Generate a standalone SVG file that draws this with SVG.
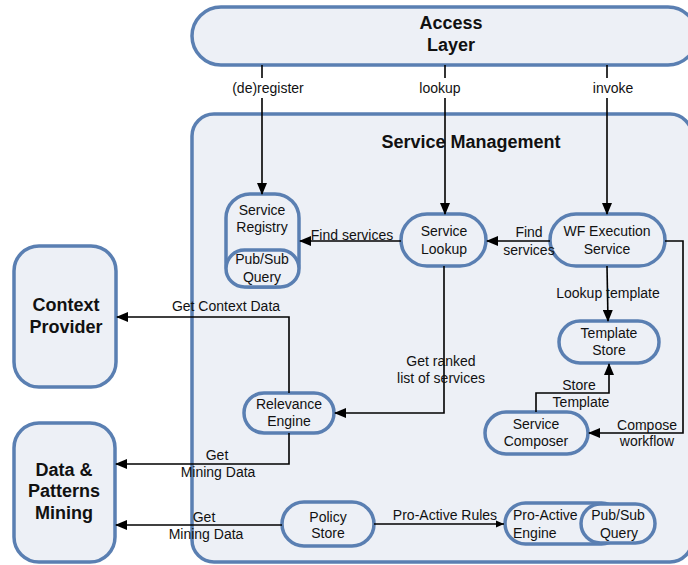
<svg xmlns="http://www.w3.org/2000/svg" width="688" height="565" viewBox="0 0 688 565">
<style>
.box{fill:#edf0f6;stroke:#5a7fb2;stroke-width:3.5}
.t{font-family:"Liberation Sans",Arial,sans-serif;font-size:14px;fill:#111;text-anchor:middle}
.b{font-family:"Liberation Sans",Arial,sans-serif;font-size:18px;font-weight:bold;fill:#111;text-anchor:middle}
.c{fill:none;stroke:#000;stroke-width:1.6}
</style>
<defs>
<marker id="ah" markerWidth="12" markerHeight="10" refX="11" refY="5" orient="auto" markerUnits="userSpaceOnUse">
<path d="M0,0 L12,5 L0,10 z" fill="#000"/>
</marker>
<marker id="ahs" markerWidth="8" markerHeight="8" refX="8" refY="4" orient="auto" markerUnits="userSpaceOnUse">
<path d="M0,0.5 L8,4 L0,7.5 z" fill="#000"/>
</marker>
</defs>
<rect width="688" height="565" fill="#fff"/>

<g id="service-management">
<rect class="box" x="192" y="114" width="500" height="448" rx="22"/>
<text class="b" x="471" y="148">Service Management</text>
</g>
<g id="access-layer">
<rect class="box" x="192" y="7" width="505" height="58" rx="29"/>
<text class="b" x="451" y="29">Access</text>
<text class="b" x="451" y="51">Layer</text>
</g>
<g id="context-provider">
<rect class="box" x="14" y="246" width="102" height="141" rx="25"/>
<text class="b" x="66" y="311">Context</text>
<text class="b" x="66" y="333">Provider</text>
</g>
<g id="data-patterns-mining">
<rect class="box" x="14" y="423" width="101" height="139" rx="25"/>
<text class="b" x="64" y="476">Data &amp;</text>
<text class="b" x="64" y="497">Patterns</text>
<text class="b" x="64" y="519">Mining</text>
</g>
<g id="service-registry">
<rect class="box" x="226" y="194" width="73" height="93" rx="24"/>
<rect class="box" x="226" y="250" width="73" height="37" rx="18.5"/>
<text class="t" x="262" y="215">Service</text>
<text class="t" x="262" y="232">Registry</text>
<text class="t" x="262" y="264">Pub/Sub</text>
<text class="t" x="262" y="282">Query</text>
</g>
<g id="service-lookup">
<rect class="box" x="401" y="214" width="85" height="52" rx="26"/>
<text class="t" x="444" y="236">Service</text>
<text class="t" x="444" y="254">Lookup</text>
</g>
<g id="wf-execution-service">
<rect class="box" x="550" y="214" width="115" height="52" rx="26"/>
<text class="t" x="607" y="236">WF Execution</text>
<text class="t" x="607" y="254">Service</text>
</g>
<g id="template-store">
<rect class="box" x="559" y="321" width="100" height="42" rx="21"/>
<text class="t" x="609" y="338">Template</text>
<text class="t" x="609" y="355">Store</text>
</g>
<g id="service-composer">
<rect class="box" x="485" y="412" width="103" height="42" rx="21"/>
<text class="t" x="536" y="429">Service</text>
<text class="t" x="536" y="446">Composer</text>
</g>
<g id="relevance-engine">
<rect class="box" x="244" y="393" width="90" height="40" rx="20"/>
<text class="t" x="289" y="409">Relevance</text>
<text class="t" x="289" y="426">Engine</text>
</g>
<g id="policy-store">
<rect class="box" x="282" y="502" width="92" height="44" rx="22"/>
<text class="t" x="328" y="522">Policy</text>
<text class="t" x="328" y="538">Store</text>
</g>
<g id="pro-active-engine">
<rect class="box" x="505" y="503" width="117" height="41" rx="20.5"/>
<rect class="box" x="581" y="504" width="74" height="39" rx="19.5"/>
<text class="t" x="513" y="520" style="text-anchor:start">Pro-Active</text>
<text class="t" x="513" y="538" style="text-anchor:start">Engine</text>
<text class="t" x="618" y="520">Pub/Sub</text>
<text class="t" x="619" y="538">Query</text>
</g>

<g id="connectors">
<path class="c" d="M262,65 V78"/>
<path class="c" d="M262,98 V194" marker-end="url(#ah)"/>
<path class="c" d="M445,65 V78"/>
<path class="c" d="M445,98 V214" marker-end="url(#ah)"/>
<path class="c" d="M607,65 V78"/>
<path class="c" d="M607,98 V214" marker-end="url(#ah)"/>
<path class="c" d="M401,241 H300" marker-end="url(#ah)"/>
<path class="c" d="M550,241 H487" marker-end="url(#ah)"/>
<path class="c" d="M665,241 H683 V433 H589" marker-end="url(#ah)"/>
<path class="c" d="M607,266 L608,321" marker-end="url(#ah)"/>
<path class="c" d="M536,412 V393 H609 V364" marker-end="url(#ah)"/>
<path class="c" d="M444,266 V413 H335" marker-end="url(#ah)"/>
<path class="c" d="M289,393 V317 H117" marker-end="url(#ah)"/>
<path class="c" d="M289,433 V464 H116" marker-end="url(#ah)"/>
<path class="c" d="M282,525 H116" marker-end="url(#ah)"/>
<path class="c" d="M374,524 H504" marker-end="url(#ahs)"/>
</g>

<g id="labels">
<text class="t" x="268" y="93">(de)register</text>
<text class="t" x="440" y="93">lookup</text>
<text class="t" x="613" y="93">invoke</text>
<text class="t" x="352" y="240">Find services</text>
<text class="t" x="529" y="237">Find</text>
<text class="t" x="529" y="255">services</text>
<text class="t" x="608" y="298">Lookup template</text>
<text class="t" x="441" y="366">Get ranked</text>
<text class="t" x="441" y="383">list of services</text>
<text class="t" x="579" y="390">Store</text>
<text class="t" x="581" y="407">Template</text>
<text class="t" x="647" y="430">Compose</text>
<text class="t" x="647" y="446">workflow</text>
<text class="t" x="226" y="311">Get Context Data</text>
<text class="t" x="217" y="460">Get</text>
<text class="t" x="218" y="477">Mining Data</text>
<text class="t" x="204" y="522">Get</text>
<text class="t" x="206" y="539">Mining Data</text>
<text class="t" x="445" y="520">Pro-Active Rules</text>
</g>
</svg>
